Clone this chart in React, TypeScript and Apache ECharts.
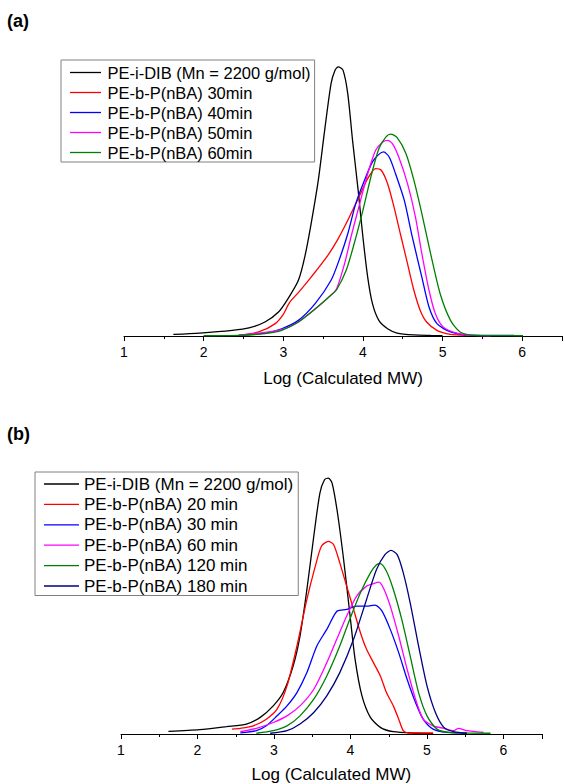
import React, { useEffect, useRef } from "react";
import * as echarts from "echarts";

const FONT = '"Liberation Sans", Arial, Helvetica, sans-serif';

// Panel (a) legend names
const namesA = [
  "PE-i-DIB (Mn = 2200 g/mol)",
  "PE-b-P(nBA) 30min",
  "PE-b-P(nBA) 40min",
  "PE-b-P(nBA) 50min",
  "PE-b-P(nBA) 60min",
];
const colorsA = ["#000000", "#ff0000", "#0000ff", "#ff00ff", "#008000"];

// Panel (b) legend names
const namesB = [
  "PE-i-DIB (Mn = 2200 g/mol)",
  "PE-b-P(nBA) 20 min",
  "PE-b-P(nBA) 30 min",
  "PE-b-P(nBA) 60 min",
  "PE-b-P(nBA) 120 min",
  "PE-b-P(nBA) 180 min",
];
const colorsB = ["#000000", "#ff0000", "#0000ff", "#ff00ff", "#008000", "#000080"];

const tickLabels = [1, 2, 3, 4, 5, 6];
const axisTitle = "Log (Calculated MW)";

// ---- Panel (a) data: [log MW, relative signal] ----
const blackA = [
  [1.62, 0.6], [1.95, 1.1], [2.36, 2.1], [2.57, 3], [2.77, 5.2], [2.94, 8.9], [3.06, 13.9],
  [3.19, 20.7], [3.27, 29.4], [3.35, 41.8], [3.44, 57.9], [3.52, 76.5], [3.6, 93.8],
  [3.65, 98.8], [3.69, 100], [3.75, 98.8], [3.81, 90], [3.87, 72.7], [3.94, 54.2], [4.0, 36.8],
  [4.06, 21.9], [4.12, 12], [4.2, 5.8], [4.31, 2.7], [4.43, 1.1], [4.64, 0.4], [4.85, 0.2], [5.0, 0.1],
];
const redA = [
  [2.44, 0.2], [2.69, 1.5], [2.9, 4.6], [3.0, 8.0], [3.08, 12.5], [3.2, 16.5], [3.35, 21.9],
  [3.56, 30], [3.69, 36.2], [3.81, 43], [3.94, 51], [4.06, 58.5], [4.16, 62.2], [4.23, 61.6],
  [4.31, 56.6], [4.39, 48], [4.47, 38], [4.56, 26.9], [4.64, 17], [4.72, 9.5], [4.8, 5.2],
  [4.93, 2.1], [5.1, 0.6], [5.3, 0.2],
];
const blueA = [
  [2.44, 0.2], [2.77, 1.1], [2.98, 2.7], [3.19, 5.8], [3.4, 12], [3.6, 20.7], [3.7, 28.1],
  [3.81, 38], [3.91, 49.2], [4.02, 57.9], [4.12, 64.7], [4.2, 67.5], [4.26, 68.4], [4.33, 66.5],
  [4.41, 60.3], [4.52, 50.4], [4.62, 36.8], [4.74, 21.9], [4.83, 10.8], [4.93, 4.6], [5.1, 1.5],
  [5.35, 0.3], [5.9, 0.2],
];
const magentaA = [
  [2.44, 0.2], [2.98, 2.4], [3.19, 5.2], [3.4, 10], [3.6, 15.2], [3.67, 17.6], [3.77, 26.9],
  [3.85, 36.8], [3.96, 49.2], [4.06, 60.3], [4.16, 69], [4.25, 72.1], [4.31, 72.7], [4.37, 71.5],
  [4.45, 66.5], [4.56, 56.6], [4.66, 44.2], [4.74, 30.6], [4.83, 17], [4.91, 8.3], [5.01, 3.3],
  [5.18, 1.1], [5.39, 0.2], [5.6, 0.1],
];
const greenA = [
  [2.0, 0.1], [2.44, 0.2], [2.77, 0.9], [2.98, 2.1], [3.19, 5.2], [3.4, 10], [3.6, 15.2],
  [3.67, 17.2], [3.79, 24.4], [3.89, 34.3], [4.0, 46.7], [4.1, 59.1], [4.2, 69.6], [4.29, 74],
  [4.35, 75], [4.43, 73.7], [4.54, 67.8], [4.64, 57.9], [4.74, 45.5], [4.85, 30.6], [4.97, 15.7],
  [5.1, 5.8], [5.22, 1.5], [5.39, 0.2], [6.01, 0.1],
];

// ---- Panel (b) data ----
const blackB = [
  [1.62, 1], [2.03, 1.7], [2.38, 2.9], [2.64, 3.9], [2.82, 6.5], [2.99, 11], [3.12, 16.2],
  [3.25, 26.6], [3.34, 38.3], [3.43, 56.5], [3.52, 77.3], [3.6, 94.2], [3.66, 99.4], [3.71, 100],
  [3.76, 98], [3.83, 86.4], [3.91, 68.2], [3.99, 47.4], [4.06, 29.2], [4.15, 14.9], [4.26, 6.5],
  [4.39, 2.6], [4.56, 0.9], [4.87, 0.3], [5.08, 0.1],
];
const redB = [
  [2.45, 1.9], [2.56, 2.2], [2.73, 3.2], [2.9, 5.8], [3.04, 9.7], [3.17, 18.8], [3.3, 34.4],
  [3.43, 52.6], [3.54, 65.6], [3.62, 73.4], [3.71, 75.3], [3.78, 74], [3.86, 66.9], [3.95, 57.8],
  [4.04, 48.7], [4.13, 39.6], [4.21, 33.1], [4.3, 27.9], [4.39, 22.7], [4.47, 16.2], [4.56, 11],
  [4.63, 5.8], [4.69, 1.3], [4.76, 0.4], [5.08, 0.4],
];
const blueB = [
  [2.56, 0.4], [2.77, 1.3], [2.9, 3.2], [3.04, 7.1], [3.17, 11], [3.3, 16.2], [3.43, 24],
  [3.56, 34.4], [3.69, 40.9], [3.78, 46.1], [3.83, 48.1], [3.95, 48.7], [4.08, 50], [4.21, 50],
  [4.32, 50.4], [4.41, 48.1], [4.52, 40.9], [4.63, 31.8], [4.74, 21.4], [4.85, 12.3], [4.95, 5.8],
  [5.08, 1.9], [5.26, 0.6], [5.52, 0.3],
];
const magentaB = [
  [2.56, 0.9], [2.77, 2.2], [2.99, 4.5], [3.17, 7.1], [3.34, 11], [3.52, 17.5], [3.69, 27.9],
  [3.82, 37], [3.95, 46.1], [4.08, 53.9], [4.21, 57.8], [4.3, 58.8], [4.37, 59.4], [4.43, 57.1],
  [4.52, 50], [4.63, 38.3], [4.74, 25.3], [4.85, 13.6], [4.95, 5.8], [5.08, 3.2], [5.22, 2.2],
  [5.35, 1.3], [5.41, 2.2], [5.52, 1.3], [5.74, 0.6],
];
const greenB = [
  [2.77, 0.3], [2.99, 1.3], [3.17, 3.2], [3.34, 7.1], [3.52, 13.6], [3.69, 22.7], [3.86, 34.4],
  [3.99, 44.8], [4.13, 55.2], [4.26, 63], [4.34, 66.2], [4.39, 66.6], [4.47, 63.6], [4.56, 56.5],
  [4.67, 44.8], [4.78, 30.5], [4.89, 16.2], [5.0, 7.1], [5.13, 1.9], [5.3, 0.6], [5.83, 0.3],
];
const navyB = [
  [2.95, 0.3], [3.17, 1.3], [3.34, 3.9], [3.52, 8.4], [3.69, 14.9], [3.86, 24], [4.04, 37],
  [4.21, 52.6], [4.34, 64.3], [4.45, 70.1], [4.53, 71.8], [4.61, 70.1], [4.69, 63], [4.78, 51.3],
  [4.89, 34.4], [5.0, 18.8], [5.11, 8.4], [5.22, 2.6], [5.35, 0.9], [5.52, 0.3],
];

const dataA = [blackA, redA, blueA, magentaA, greenA];
const dataB = [blackB, redB, blueB, magentaB, greenB, navyB];

function xAxisFor(gridIndex: number, nameGap: number) {
  return {
    type: "value",
    gridIndex,
    min: 1,
    max: 6.5,
    interval: 1,
    name: axisTitle,
    nameLocation: "middle",
    nameGap,
    nameTextStyle: { fontFamily: FONT, fontSize: 17, color: "#000" },
    axisLine: { show: true, onZero: false, lineStyle: { color: "#000", width: 1 } },
    axisTick: { show: true, inside: false, length: 5, lineStyle: { color: "#000", width: 1 } },
    minorTick: { show: true, splitNumber: 2, length: 3, lineStyle: { color: "#000", width: 1 } },
    splitLine: { show: false },
    minorSplitLine: { show: false },
    axisLabel: {
      margin: 9,
      fontFamily: FONT,
      fontSize: 14,
      color: "#000",
      formatter: (v: number) => (tickLabels.includes(v) ? String(v) : ""),
    },
  };
}

function yAxisFor(gridIndex: number) {
  return { type: "value", gridIndex, min: 0, max: 110, show: false };
}

export default function App() {
  const ref = useRef<HTMLDivElement>(null);
  useEffect(() => {
    if (!ref.current) return;
    const chart = echarts.init(ref.current, null, { renderer: "svg" });
    const series: any[] = [];
    namesA.forEach((n, i) => {
      series.push({
        type: "line",
        name: n,
        xAxisIndex: 0,
        yAxisIndex: 0,
        data: dataA[i],
        symbol: "none",
        smooth: 0.25,
        lineStyle: { width: 1.3, color: colorsA[i] },
        itemStyle: { color: colorsA[i] },
      });
    });
    namesB.forEach((n, i) => {
      series.push({
        type: "line",
        name: n,
        xAxisIndex: 1,
        yAxisIndex: 1,
        data: dataB[i],
        symbol: "none",
        smooth: 0.25,
        lineStyle: { width: 1.3, color: colorsB[i] },
        itemStyle: { color: colorsB[i] },
      });
    });
    chart.setOption({
      animation: false,
      backgroundColor: "#ffffff",
      grid: [
        { left: 124, top: 40, width: 442, height: 296 },
        { left: 121, top: 452.6, width: 420.75, height: 282.4 },
      ],
      xAxis: [xAxisFor(0, 33.5), xAxisFor(1, 32)],
      yAxis: [yAxisFor(0), yAxisFor(1)],
      legend: [
        {
          data: namesA,
          orient: "vertical",
          left: 61,
          top: 60,
          borderColor: "#808080",
          borderWidth: 1,
          borderRadius: 0,
          padding: [4, 4, 1, 9],
          icon: "rect",
          itemWidth: 31,
          itemHeight: 1.3,
          itemGap: 3,
          selectedMode: false,
          textStyle: { fontFamily: FONT, fontSize: 16.5, color: "#000", padding: [0, 0, 0, 1.5] },
        },
        {
          data: namesB,
          orient: "vertical",
          left: 35,
          top: 472,
          borderColor: "#808080",
          borderWidth: 1,
          borderRadius: 0,
          padding: [3.5, 5, 1, 9],
          icon: "rect",
          itemWidth: 35,
          itemHeight: 1.3,
          itemGap: 3.4,
          selectedMode: false,
          textStyle: { fontFamily: FONT, fontSize: 17, color: "#000" },
        },
      ],
      graphic: [
        {
          type: "text",
          left: 7,
          top: 12,
          style: { text: "(a)", fontFamily: FONT, fontWeight: "bold", fontSize: 18, fill: "#000" },
        },
        {
          type: "text",
          left: 7,
          top: 425,
          style: { text: "(b)", fontFamily: FONT, fontWeight: "bold", fontSize: 18, fill: "#000" },
        },
      ],
      series,
    });
    return () => chart.dispose();
  }, []);
  return (
    <div
      ref={ref}
      style={{ position: "fixed", left: 0, top: 0, width: 565, height: 784, background: "#fff" }}
    />
  );
}
